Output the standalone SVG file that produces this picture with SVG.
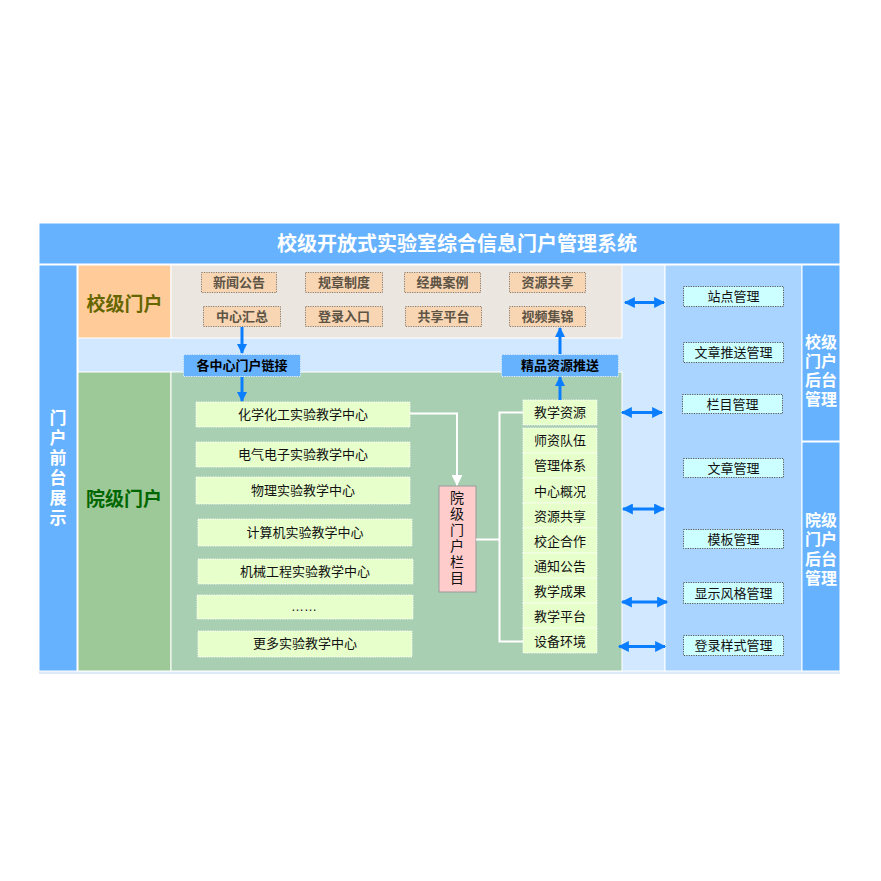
<svg xmlns="http://www.w3.org/2000/svg" width="881" height="881" viewBox="0 0 881 881">
<defs>
<style>
text{font-family:"Liberation Sans","Noto Sans CJK SC",sans-serif;dominant-baseline:central;text-anchor:middle}
.sec{stroke:#fff;stroke-width:1}
.tb{fill:#F8D6B4;stroke:#8A7A6A;stroke-width:1;stroke-dasharray:1.2 1.2}
.tbt{font-size:13px;font-weight:bold;fill:#5E5446}
.lk{fill:#66B2FF;stroke:#E6F2FF;stroke-width:1;stroke-dasharray:1.2 1.2}
.lkt{font-size:13px;font-weight:bold;fill:#000}
.cb{fill:#E7FFCB;stroke:#fff;stroke-width:1;stroke-dasharray:1.2 1.2}
.ct{font-size:13px;fill:#111}
.rb{fill:#CCFFFF;stroke:#555;stroke-width:1;stroke-dasharray:1.2 1.2}
.rt{font-size:13px;fill:#111}
.vw{font-size:16px;font-weight:bold;fill:#fff}
.ba{stroke:#0A7EFF;stroke-width:3;fill:none}
.wl{stroke:#fff;stroke-width:2;fill:none}
</style>
<marker id="ah" viewBox="0 0 10 10" refX="9" refY="5" markerWidth="13" markerHeight="11" markerUnits="userSpaceOnUse" orient="auto-start-reverse"><path d="M0,0 L10,5 L0,10 z" fill="#0A7EFF"/></marker>
<marker id="ad" viewBox="0 0 10 10" refX="9" refY="5" markerWidth="15" markerHeight="10" markerUnits="userSpaceOnUse" orient="auto"><path d="M0,0 L10,5 L0,10 z" fill="#0A7EFF"/></marker>
<marker id="aw" viewBox="0 0 10 10" refX="9" refY="5" markerWidth="14" markerHeight="11" markerUnits="userSpaceOnUse" orient="auto"><path d="M0,0 L10,5 L0,10 z" fill="#fff"/></marker>
</defs>
<rect width="881" height="881" fill="#fff"/>

<g id="frame">
<rect x="39" y="671" width="801" height="3" fill="#DDE9F6"/>
<rect class="sec" x="39" y="223" width="801" height="41" fill="#66B2FF"/>
<text x="457" y="244" style="font-size:20px;font-weight:bold;fill:#fff">校级开放式实验室综合信息门户管理系统</text>
<rect class="sec" x="78" y="265" width="587" height="406" fill="#D2E8FF"/>
<rect class="sec" x="665" y="265" width="137" height="406" fill="#A8D4FF"/>
</g>

<g id="front-label">
<rect class="sec" x="39" y="265" width="38" height="406" fill="#66B2FF"/>
<text class="vw" style="font-size:17px" x="58" y="418">门</text>
<text class="vw" style="font-size:17px" x="58" y="438">户</text>
<text class="vw" style="font-size:17px" x="58" y="458">前</text>
<text class="vw" style="font-size:17px" x="58" y="478">台</text>
<text class="vw" style="font-size:17px" x="58" y="498">展</text>
<text class="vw" style="font-size:17px" x="58" y="518">示</text>
</g>

<g id="school-portal">
<rect class="sec" x="78" y="265" width="93" height="73" fill="#FFCC99"/>
<text x="124.5" y="304" style="font-size:19px;font-weight:bold;fill:#666600">校级门户</text>
<rect class="sec" x="171" y="265" width="451" height="73" fill="#EBE6E0"/>
</g>

<g id="school-items">
<rect class="tb" x="201.5" y="272.5" width="75" height="20"/><text class="tbt" x="239" y="282.5">新闻公告</text>
<rect class="tb" x="305.5" y="272.5" width="77" height="20"/><text class="tbt" x="344" y="282.5">规章制度</text>
<rect class="tb" x="404.5" y="272.5" width="76" height="20"/><text class="tbt" x="442.5" y="282.5">经典案例</text>
<rect class="tb" x="509.5" y="272.5" width="76" height="20"/><text class="tbt" x="547.5" y="282.5">资源共享</text>
<rect class="tb" x="203.5" y="306.5" width="77" height="20"/><text class="tbt" x="242" y="316.5">中心汇总</text>
<rect class="tb" x="305.5" y="306.5" width="77" height="20"/><text class="tbt" x="344" y="316.5">登录入口</text>
<rect class="tb" x="405.5" y="306.5" width="76" height="20"/><text class="tbt" x="443.5" y="316.5">共享平台</text>
<rect class="tb" x="509.5" y="306.5" width="76" height="20"/><text class="tbt" x="547.5" y="316.5">视频集锦</text>
</g>

<g id="college-portal">
<rect class="sec" x="78" y="372" width="93" height="299" fill="#9DC898"/>
<text x="124" y="499" style="font-size:19px;font-weight:bold;fill:#006600">院级门户</text>
<rect class="sec" x="171" y="372" width="451" height="299" fill="#A9CFB3"/>
</g>

<g id="link-boxes">
<rect class="lk" x="183.5" y="354.5" width="117" height="22"/><text class="lkt" x="242" y="365.5">各中心门户链接</text>
<rect class="lk" x="501.5" y="354.5" width="117" height="22"/><text class="lkt" x="560" y="365.5">精品资源推送</text>
</g>

<g id="centers">
<rect class="cb" x="196" y="402" width="214" height="25"/><text class="ct" x="303" y="414.5">化学化工实验教学中心</text>
<rect class="cb" x="196" y="442" width="214" height="25"/><text class="ct" x="303" y="454.5">电气电子实验教学中心</text>
<rect class="cb" x="196" y="477" width="214" height="27"/><text class="ct" x="303" y="490.5">物理实验教学中心</text>
<rect class="cb" x="198" y="519" width="214" height="27"/><text class="ct" x="305" y="532.5">计算机实验教学中心</text>
<rect class="cb" x="198" y="559" width="215" height="25"/><text class="ct" x="305" y="571.5">机械工程实验教学中心</text>
<rect class="cb" x="197" y="595" width="216" height="24"/><text class="ct" x="304" y="606">……</text>
<rect class="cb" x="198" y="631" width="214" height="26"/><text class="ct" x="305" y="643.5">更多实验教学中心</text>
</g>

<g id="college-column">
<rect x="439" y="486" width="37" height="106" fill="#FFCCCC" stroke="#999" stroke-width="1"/>
<text class="ct" style="font-size:14px" x="457" y="498">院</text>
<text class="ct" style="font-size:14px" x="457" y="514">级</text>
<text class="ct" style="font-size:14px" x="457" y="530">门</text>
<text class="ct" style="font-size:14px" x="457" y="546">户</text>
<text class="ct" style="font-size:14px" x="457" y="562">栏</text>
<text class="ct" style="font-size:14px" x="457" y="578">目</text>
</g>

<g id="column-items">
<rect class="cb" x="523" y="400" width="74" height="25"/><text class="ct" x="560" y="412.5">教学资源</text>
<rect class="cb" x="523" y="428" width="74" height="25"/><text class="ct" x="560" y="440.5">师资队伍</text>
<rect class="cb" x="523" y="453" width="74" height="25"/><text class="ct" x="560" y="465.5">管理体系</text>
<rect class="cb" x="523" y="478" width="74" height="25"/><text class="ct" x="560" y="491">中心概况</text>
<rect class="cb" x="523" y="503" width="74" height="25"/><text class="ct" x="560" y="516">资源共享</text>
<rect class="cb" x="523" y="528" width="74" height="25"/><text class="ct" x="560" y="541">校企合作</text>
<rect class="cb" x="523" y="553" width="74" height="25"/><text class="ct" x="560" y="566">通知公告</text>
<rect class="cb" x="523" y="578" width="74" height="25"/><text class="ct" x="560" y="591">教学成果</text>
<rect class="cb" x="523" y="603" width="74" height="25"/><text class="ct" x="560" y="616.5">教学平台</text>
<rect class="cb" x="523" y="628" width="74" height="25"/><text class="ct" x="560" y="641">设备环境</text>
</g>

<g id="backend">
<rect class="rb" x="683.5" y="286.5" width="100" height="20"/><text class="rt" x="733.5" y="296.5">站点管理</text>
<rect class="rb" x="683.5" y="342.5" width="100" height="20"/><text class="rt" x="733.5" y="352.5">文章推送管理</text>
<rect class="rb" x="682.5" y="394.5" width="100" height="19"/><text class="rt" x="732.5" y="404">栏目管理</text>
<rect class="rb" x="683.5" y="458.5" width="100" height="19"/><text class="rt" x="733.5" y="468">文章管理</text>
<rect class="rb" x="683.5" y="529.5" width="100" height="19"/><text class="rt" x="733.5" y="539">模板管理</text>
<rect class="rb" x="683.5" y="582.5" width="100" height="21"/><text class="rt" x="733.5" y="593">显示风格管理</text>
<rect class="rb" x="683.5" y="635.5" width="100" height="20"/><text class="rt" x="733.5" y="645.5">登录样式管理</text>
</g>

<g id="backend-labels">
<rect class="sec" x="802" y="265" width="38" height="176" fill="#66B2FF"/>
<text class="vw" x="821" y="342">校级</text>
<text class="vw" x="821" y="361">门户</text>
<text class="vw" x="821" y="380">后台</text>
<text class="vw" x="821" y="399">管理</text>
<rect class="sec" x="802" y="442" width="38" height="229" fill="#66B2FF"/>
<text class="vw" x="821" y="520">院级</text>
<text class="vw" x="821" y="539">门户</text>
<text class="vw" x="821" y="559">后台</text>
<text class="vw" x="821" y="578">管理</text>
</g>

<g id="connectors">
<line class="ba" x1="242" y1="327" x2="242" y2="353" marker-end="url(#ad)"/>
<line class="ba" x1="242" y1="377" x2="242" y2="401" marker-end="url(#ad)"/>
<line class="ba" x1="560" y1="400" x2="560" y2="377" marker-end="url(#ad)"/>
<line class="ba" x1="560" y1="354" x2="560" y2="328" marker-end="url(#ad)"/>
<polyline class="wl" points="410,413.5 457,413.5 457,485" marker-end="url(#aw)"/>
<polyline class="wl" points="476,539.5 499.5,539.5"/>
<polyline class="wl" points="523,412.5 499.5,412.5 499.5,641.5 523,641.5"/>
<line class="ba" x1="625" y1="302.5" x2="664" y2="302.5" marker-start="url(#ah)" marker-end="url(#ah)"/>
<line class="ba" x1="622" y1="412.5" x2="662" y2="412.5" marker-start="url(#ah)" marker-end="url(#ah)"/>
<line class="ba" x1="623" y1="509" x2="664" y2="509" marker-start="url(#ah)" marker-end="url(#ah)"/>
<line class="ba" x1="622" y1="602" x2="667" y2="602" marker-start="url(#ah)" marker-end="url(#ah)"/>
<line class="ba" x1="619" y1="646.5" x2="665" y2="646.5" marker-start="url(#ah)" marker-end="url(#ah)"/>
</g>
</svg>
